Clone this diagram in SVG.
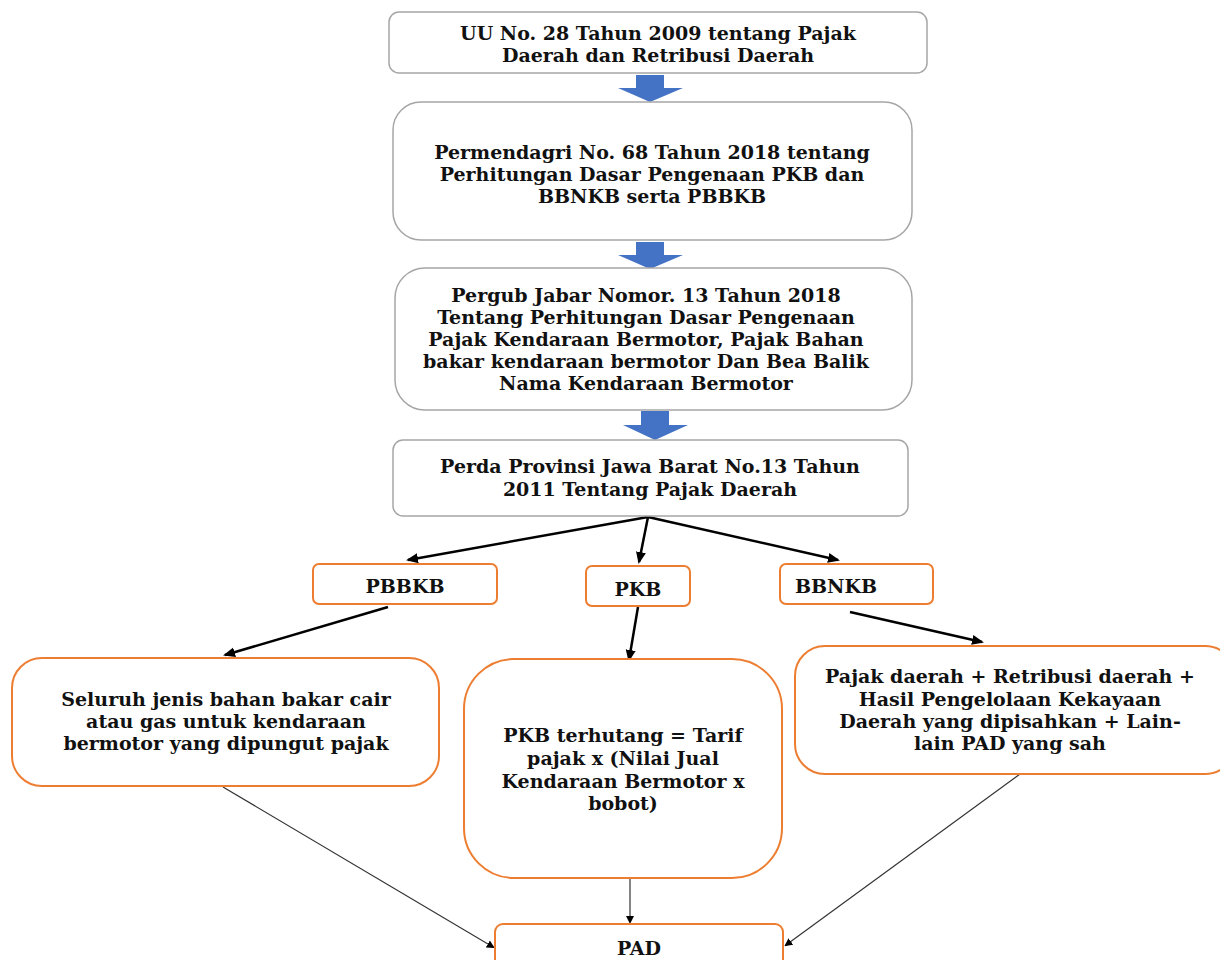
<svg xmlns="http://www.w3.org/2000/svg" width="1220" height="960" viewBox="0 0 1220 960">
<style>
.t{font-family:"DejaVu Serif","Liberation Serif",serif;font-weight:bold;font-size:19px;fill:#111;text-anchor:middle}
.g{fill:#fff;stroke:#a6a6a6;stroke-width:1.5}
.o{fill:#fff;stroke:#ed7d31;stroke-width:2}
.blk{fill:#4472c4}
.c1{stroke:#000;stroke-width:2.5;fill:none}
.c2{stroke:#333;stroke-width:1.2;fill:none}
</style>
<defs>
<marker id="ah" markerWidth="8" markerHeight="8" refX="6" refY="4" orient="auto" markerUnits="userSpaceOnUse" viewBox="0 0 8 8"><path d="M0,0 L8,4 L0,8 z" fill="#000"/></marker>
<marker id="ah2" markerWidth="12" markerHeight="12" refX="10" refY="6" orient="auto" markerUnits="userSpaceOnUse" viewBox="0 0 12 12"><path d="M0,1 L12,6 L0,11 z" fill="#000"/></marker>
</defs>
<rect width="1220" height="960" fill="#fff"/>
<g id="connectors">
<path class="blk" d="M636,75 H664 V88 H683 L650,102 L618,88 H636 Z"/>
<path class="blk" d="M636,242 H664 V255 H683 L650,269 L618,255 H636 Z"/>
<path class="blk" d="M641,411 H669 V425 H688 L655,440 L623,425 H641 Z"/>
<line class="c1" x1="648" y1="517" x2="408" y2="560" marker-end="url(#ah2)"/>
<line class="c1" x1="648" y1="517" x2="639" y2="562" marker-end="url(#ah2)"/>
<line class="c1" x1="648" y1="517" x2="838" y2="560" marker-end="url(#ah2)"/>
<line class="c1" x1="388" y1="607" x2="225" y2="655" marker-end="url(#ah2)"/>
<line class="c1" x1="638" y1="607" x2="629" y2="660" marker-end="url(#ah2)"/>
<line class="c1" x1="850" y1="612" x2="982" y2="642" marker-end="url(#ah2)"/>
<line class="c2" x1="223" y1="787" x2="493" y2="947" marker-end="url(#ah)"/>
<line class="c2" x1="630" y1="878" x2="630" y2="922" marker-end="url(#ah)"/>
<line class="c2" x1="1020" y1="774" x2="786" y2="945" marker-end="url(#ah)"/>
</g>
<g id="uu">
<rect class="g" x="389" y="12" width="538" height="61" rx="10"/>
<text class="t" x="658" y="40">UU No. 28 Tahun 2009 tentang Pajak</text>
<text class="t" x="658" y="62">Daerah dan Retribusi Daerah</text>
</g>
<g id="permendagri">
<rect class="g" x="393" y="102" width="519" height="138" rx="28"/>
<text class="t" x="652" y="159">Permendagri No. 68 Tahun 2018 tentang</text>
<text class="t" x="652" y="181">Perhitungan Dasar Pengenaan PKB dan</text>
<text class="t" x="652" y="203">BBNKB serta PBBKB</text>
</g>
<g id="pergub">
<rect class="g" x="395" y="268" width="517" height="142" rx="30"/>
<text class="t" x="646" y="302">Pergub Jabar Nomor. 13 Tahun 2018</text>
<text class="t" x="646" y="324">Tentang Perhitungan Dasar Pengenaan</text>
<text class="t" x="646" y="346">Pajak Kendaraan Bermotor, Pajak Bahan</text>
<text class="t" x="646" y="368">bakar kendaraan bermotor Dan Bea Balik</text>
<text class="t" x="646" y="390">Nama Kendaraan Bermotor</text>
</g>
<g id="perda">
<rect class="g" x="393" y="440" width="515" height="76" rx="10"/>
<text class="t" x="650" y="473">Perda Provinsi Jawa Barat No.13 Tahun</text>
<text class="t" x="650" y="496">2011 Tentang Pajak Daerah</text>
</g>
<g id="pbbkb">
<rect class="o" x="313" y="564" width="184" height="40" rx="6"/>
<text class="t" x="405" y="593">PBBKB</text>
</g>
<g id="pkb">
<rect class="o" x="586" y="566" width="104" height="40" rx="6"/>
<text class="t" x="638" y="596">PKB</text>
</g>
<g id="bbnkb">
<rect class="o" x="780" y="564" width="153" height="40" rx="6"/>
<text class="t" x="836" y="593">BBNKB</text>
</g>
<g id="bahanbakar">
<rect class="o" x="12" y="658" width="427" height="128" rx="30"/>
<text class="t" x="226" y="706">Seluruh jenis bahan bakar cair</text>
<text class="t" x="226" y="728">atau gas untuk kendaraan</text>
<text class="t" x="226" y="750">bermotor yang dipungut pajak</text>
</g>
<g id="pkbterhutang">
<rect class="o" x="464" y="659" width="318" height="219" rx="50"/>
<text class="t" x="623" y="742">PKB terhutang = Tarif</text>
<text class="t" x="623" y="765">pajak x (Nilai Jual</text>
<text class="t" x="623" y="788">Kendaraan Bermotor x</text>
<text class="t" x="623" y="810">bobot)</text>
</g>
<g id="pajakdaerah">
<rect class="o" x="795" y="646" width="440" height="128" rx="30"/>
<text class="t" x="1010" y="683">Pajak daerah + Retribusi daerah +</text>
<text class="t" x="1010" y="706">Hasil Pengelolaan Kekayaan</text>
<text class="t" x="1010" y="728">Daerah yang dipisahkan + Lain-</text>
<text class="t" x="1010" y="750">lain PAD yang sah</text>
</g>
<g id="pad">
<rect class="o" x="495" y="924" width="288" height="60" rx="8"/>
<text class="t" x="639" y="955">PAD</text>
</g>
</svg>
